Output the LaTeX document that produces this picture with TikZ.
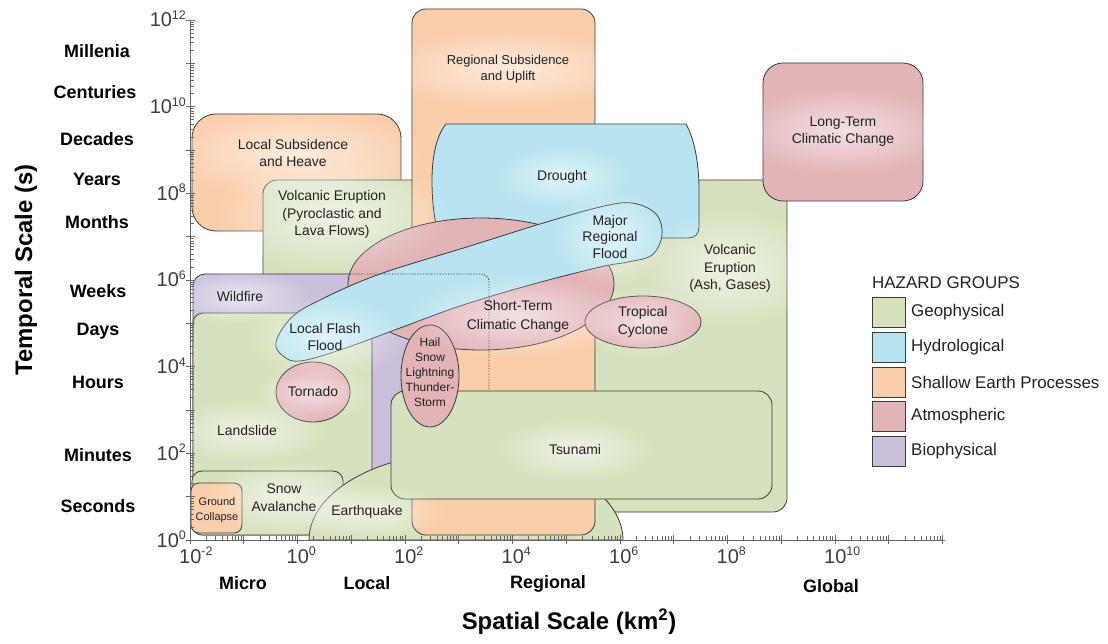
\documentclass[tikz,border=0pt]{standalone}
\usepackage{fontspec}
\setmainfont{Liberation Sans}
\usetikzlibrary{fadings}
\definecolor{geo}{HTML}{D6E2BE}
\definecolor{hyd}{HTML}{B7E4F0}
\definecolor{sep}{HTML}{FACEAA}
\definecolor{atm}{HTML}{E2B3B7}
\definecolor{bio}{HTML}{CBC0DC}
\definecolor{edge}{HTML}{3A3A3A}
\definecolor{txt}{HTML}{222222}
\definecolor{axisc}{HTML}{666666}
\tikzfading[name=glowfade, inner color=transparent!0, outer color=transparent!100]
\newcommand\tk[1]{10\raisebox{7.5bp}{\fontsize{12.5}{12}\selectfont #1}}
\newcommand\glowat[3]{\fill[white,opacity=0.6,path fading=glowfade] #1 ellipse [x radius=#2bp, y radius=#3bp];}
\begin{document}
\begin{tikzpicture}[x=1bp,y=-1bp,
  shp/.style={draw=edge, line width=0.8bp},
  lbl/.style={font=\fontsize{14}{18}\selectfont, align=center, text=txt, inner sep=0pt},
  tlab/.style={font=\bfseries\fontsize{18}{20}\selectfont, text=black, inner sep=0pt},
  ticklab/.style={font=\fontsize{20}{20}\selectfont, text=axisc!60!black, inner sep=0pt},
  leg/.style={font=\fontsize{17}{20}\selectfont, text=txt, inner sep=0pt, anchor=west}]
\useasboundingbox (0,0) rectangle (1108,644);
\fill[white] (0,0) rectangle (1108,644);

% ---- shapes, back to front ----
\draw[shp, fill=sep, rounded corners=24bp] (192,114) rectangle (401,231);
\draw[shp, fill=geo, rounded corners=14bp] (263,180) rectangle (450,320);
\draw[shp, fill=geo, rounded corners=14bp] (420,180) rectangle (787,512);
\draw[shp, fill=bio, rounded corners=12bp] (193,274) rectangle (489,490);
\draw[shp, fill=geo, rounded corners=10bp] (193,313) rectangle (372,535);
\draw[shp, fill=geo, rounded corners=10bp] (192,471) rectangle (343,535);
\draw[shp, fill=sep, rounded corners=8bp] (191,483) rectangle (242,533);
\draw[shp, fill=geo] (309,540) arc[start angle=180, end angle=0, x radius=157bp, y radius=88bp] -- cycle;
\draw[shp, fill=sep, rounded corners=14bp] (412,9) rectangle (595,535);
\draw[shp, fill=hyd] (446,124) -- (686,124) .. controls (695,140) and (699,165) .. (699,190) -- (699,227) .. controls (699,234) and (695,238) .. (688,238) -- (440,238) .. controls (435,225) and (432,205) .. (432,180) .. controls (432,155) and (437,135) .. (446,124) -- cycle;
\draw[shp, fill=atm] (481,284) ellipse [x radius=133bp, y radius=66bp];
\draw[shp, fill=hyd] plot[smooth cycle, tension=0.6] coordinates {(276,342) (292,317) (322,299) (380,274) (470,246) (540,224) (600,207) (632,203) (656,214) (662,235) (652,255) (628,262) (600,267) (530,285) (460,306) (400,328) (340,350) (300,361) (283,356)};
\draw[edge, line width=0.8bp, dash pattern=on 1.2bp off 1.6bp, rounded corners=8bp] (350,274) -- (489,274) -- (489,391);
\draw[shp, fill=atm] (313,392) ellipse [x radius=37bp, y radius=30bp];
\draw[shp, fill=geo, rounded corners=14bp] (391,391) rectangle (772,499);
\draw[shp, fill=atm] (430,376) ellipse [x radius=29bp, y radius=51bp];
\draw[shp, fill=atm] (643,322) ellipse [x radius=58bp, y radius=26bp];
\draw[shp, fill=atm, rounded corners=20bp] (763,63) rectangle (923,201);

% ---- glows ----
\glowat{(293,153)}{130}{45}
\glowat{(508,69)}{130}{40}
\glowat{(332,214)}{120}{60}
\glowat{(562,177)}{70}{32}
\glowat{(843,131)}{110}{45}
\glowat{(730,268)}{90}{60}
\glowat{(610,237)}{60}{50}
\glowat{(240,297)}{70}{28}
\glowat{(325,337)}{80}{42}
\glowat{(518,316)}{115}{42}
\glowat{(643,322)}{60}{36}
\glowat{(313,392)}{60}{28}
\glowat{(247,431)}{80}{32}
\glowat{(575,450)}{80}{32}
\glowat{(284,498)}{80}{38}
\glowat{(367,512)}{80}{28}

% ---- axes ----
\draw[axisc, line width=0.8bp] (190,20) -- (190,540) -- (945,540);
\foreach \d in {0,...,11}{
  \foreach \k in {2,...,9}{
    \pgfmathsetmacro\yy{540-43.333*(\d+log10(\k))}
    \draw[axisc, line width=0.5bp] (190,\yy) -- (194,\yy);
  }}
\foreach \d in {0,...,12}{
  \pgfmathsetmacro\yy{540-43.333*\d}
  \draw[axisc, line width=0.7bp] (186,\yy) -- (195,\yy);
}
\foreach \d in {-2,...,11}{
  \foreach \k in {2,...,9}{
    \pgfmathsetmacro\xx{190+53.75*(\d+2+log10(\k))}
    \draw[axisc, line width=0.5bp] (\xx,540) -- (\xx,536);
  }}
\foreach \d in {-2,...,12}{
  \pgfmathsetmacro\xx{190+53.75*(\d+2)}
  \draw[axisc, line width=0.7bp] (\xx,544) -- (\xx,535);
}

% y tick labels
\node[ticklab, anchor=base east] (y12) at (186,27) {\tk{12}};
\node[ticklab, anchor=base east] (y10) at (186,113.7) {\tk{10}};
\node[ticklab, anchor=base east] (y8) at (186,200.3) {\tk{8}};
\node[ticklab, anchor=base east] (y6) at (186,287) {\tk{6}};
\node[ticklab, anchor=base east] (y4) at (186,373.7) {\tk{4}};
\node[ticklab, anchor=base east] (y2) at (186,460.3) {\tk{2}};
\node[ticklab, anchor=base east] (y0) at (186,547) {\tk{0}};
% x tick labels
\node[ticklab, anchor=base west] (xm2) at (179,563) {\tk{-2}};
\node[ticklab, anchor=base west] (x0) at (286.5,563) {\tk{0}};
\node[ticklab, anchor=base west] (x2) at (394,563) {\tk{2}};
\node[ticklab, anchor=base west] (x4) at (501.5,563) {\tk{4}};
\node[ticklab, anchor=base west] (x6) at (609,563) {\tk{6}};
\node[ticklab, anchor=base west] (x8) at (716.5,563) {\tk{8}};
\node[ticklab, anchor=base west] (x10) at (824,563) {\tk{10}};

% time labels
\node[tlab] (mil) at (97,51) {Millenia};
\node[tlab] (cen) at (95,92) {Centuries};
\node[tlab] (dec) at (97,139) {Decades};
\node[tlab] (yea) at (97,179) {Years};
\node[tlab] (mon) at (97,222) {Months};
\node[tlab] (wee) at (98,291) {Weeks};
\node[tlab] (day) at (98,331) {Days};
\node[tlab] (hou) at (98,382) {Hours};
\node[tlab] (min) at (98,455) {Minutes};
\node[tlab] (sec) at (98,506) {Seconds};
% space labels
\node[tlab] (mic) at (243,583) {Micro};
\node[tlab] (loc) at (367,583) {Local};
\node[tlab] (reg) at (548,584) {Regional};
\node[tlab] (glo) at (831,586) {Global};
% axis titles
\node[font=\bfseries\fontsize{24}{24}\selectfont, rotate=90, inner sep=0pt] (ytitle) at (26,270) {Temporal Scale (s)};
\node[font=\bfseries\fontsize{24}{24}\selectfont, inner sep=0pt] (xtitle) at (569,622) {Spatial Scale (km\textsuperscript{2})};

% ---- hazard labels ----
\node[lbl] (lsh) at (293,153) {Local Subsidence\\and Heave};
\node[lbl, font=\fontsize{13}{16.5}\selectfont] (rsu) at (508,69) {Regional Subsidence\\and Uplift};
\node[lbl, font=\fontsize{14}{17.5}\selectfont] (vpl) at (332,214.5) {Volcanic Eruption\\(Pyroclastic and\\Lava Flows)};
\node[lbl] (dro) at (562,177) {Drought};
\node[lbl, font=\fontsize{14}{17}\selectfont] (ltc) at (843,131.5) {Long-Term\\Climatic Change};
\node[lbl, font=\fontsize{14}{17.5}\selectfont] (vag) at (730,268.5) {Volcanic\\Eruption\\(Ash, Gases)};
\node[lbl, font=\fontsize{14}{17}\selectfont] (mrf) at (610,237) {Major\\Regional\\Flood};
\node[lbl] (wil) at (240,297) {Wildfire};
\node[lbl] (lff) at (325,337) {Local Flash\\Flood};
\node[lbl, font=\fontsize{14}{19}\selectfont] (stc) at (518,316.5) {Short-Term\\Climatic Change};
\node[lbl] (tcy) at (643,322) {Tropical\\Cyclone};
\node[lbl, font=\fontsize{12}{15}\selectfont] (hail) at (430,372) {Hail\\Snow\\Lightning\\Thunder-\\Storm};
\node[lbl] (tor) at (313,392) {Tornado};
\node[lbl] (lan) at (247,431) {Landslide};
\node[lbl] (tsu) at (575,450) {Tsunami};
\node[lbl] (sna) at (284,498) {Snow\\Avalanche};
\node[lbl, font=\fontsize{11}{15}\selectfont] (gco) at (217,510.5) {Ground\\Collapse};
\node[lbl] (eq) at (367,512) {Earthquake};

% ---- legend ----
\node[leg] (lgt) at (872,283) {HAZARD GROUPS};
\draw[shp, fill=geo] (872,297) rectangle (905,327);
\draw[shp, fill=hyd] (872,332) rectangle (905,362);
\draw[shp, fill=sep] (872,367) rectangle (905,397);
\draw[shp, fill=atm] (872,401) rectangle (905,431);
\draw[shp, fill=bio] (872,436) rectangle (905,466);
\node[leg] (lg1) at (911,312) {Geophysical};
\node[leg] (lg2) at (911,347) {Hydrological};
\node[leg] (lg3) at (911,382) {Shallow Earth Processes};
\node[leg] (lg4) at (911,416) {Atmospheric};
\node[leg] (lg5) at (911,451) {Biophysical};
\end{tikzpicture}
\end{document}
